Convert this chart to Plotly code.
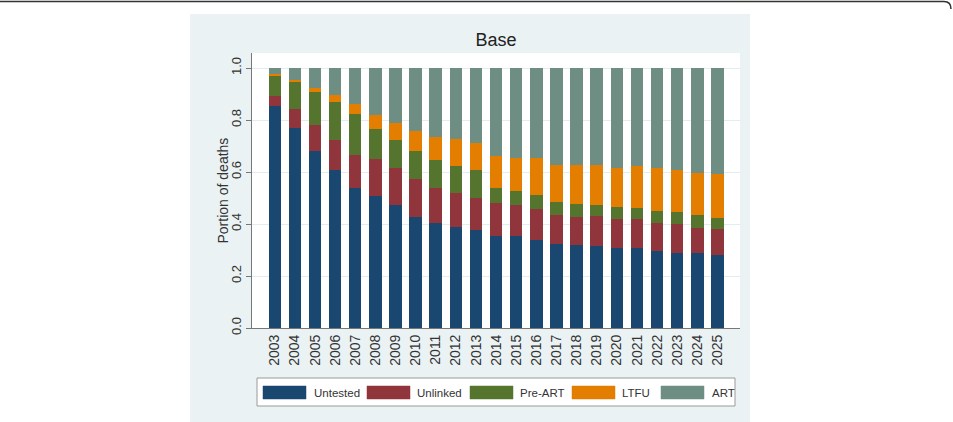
import plotly.graph_objects as go

years = ["2003", "2004", "2005", "2006", "2007", "2008", "2009", "2010", "2011", "2012",
         "2013", "2014", "2015", "2016", "2017", "2018", "2019", "2020", "2021", "2022",
         "2023", "2024", "2025"]

untested = [0.854, 0.769, 0.682, 0.608, 0.537, 0.508, 0.473, 0.428, 0.403, 0.390, 0.377, 0.354,
            0.354, 0.338, 0.322, 0.319, 0.315, 0.309, 0.309, 0.297, 0.287, 0.288, 0.281]
unlinked = [0.040, 0.072, 0.099, 0.115, 0.128, 0.141, 0.143, 0.144, 0.137, 0.131, 0.124, 0.126,
            0.119, 0.119, 0.113, 0.109, 0.115, 0.110, 0.110, 0.108, 0.113, 0.098, 0.099]
pre_art = [0.077, 0.104, 0.128, 0.147, 0.158, 0.115, 0.107, 0.109, 0.106, 0.104, 0.106, 0.058,
           0.054, 0.054, 0.049, 0.049, 0.045, 0.047, 0.041, 0.045, 0.045, 0.047, 0.042]
ltfu = [0.005, 0.009, 0.015, 0.026, 0.037, 0.055, 0.067, 0.078, 0.087, 0.103, 0.103, 0.122,
        0.128, 0.141, 0.143, 0.150, 0.151, 0.150, 0.163, 0.164, 0.163, 0.164, 0.170]
art = [0.024, 0.046, 0.076, 0.104, 0.140, 0.181, 0.210, 0.241, 0.267, 0.273, 0.290, 0.340,
       0.345, 0.348, 0.373, 0.373, 0.374, 0.384, 0.377, 0.386, 0.392, 0.403, 0.408]

series_names = ["Untested", "Unlinked", "Pre-ART", "LTFU", "ART"]
series_values = [untested, unlinked, pre_art, ltfu, art]
series_colors = ["#1A476F", "#90353B", "#55752F", "#E37E00", "#6E8E84"]

FONT = "Liberation Sans, Arial, sans-serif"
W, H = 953, 422
PL, PR, PT, PB = 252, 740, 53, 328  # plot area in pixels


def px(x):
    return (x - PL) / (PR - PL)


def py(y):
    return (PB - y) / (PB - PT)


fig = go.Figure()
for name, vals, col in zip(series_names, series_values, series_colors):
    fig.add_trace(go.Bar(x=years, y=vals, name=name, marker=dict(color=col, line=dict(width=0)),
                         showlegend=False))

shapes = [
    # outer card top border
    dict(type="path", xref="paper", yref="paper",
         path=f"M {px(0)},{py(1.5)} L {px(944)},{py(1.5)} Q {px(951)},{py(1.5)} {px(951)},{py(9)}",
         line=dict(color="#333333", width=1.5)),
    # graph region
    dict(type="rect", xref="paper", yref="paper", x0=px(190), x1=px(750), y0=py(430), y1=py(14),
         fillcolor="#EAF2F3", line=dict(width=0), layer="below"),
    # plot region
    dict(type="rect", xref="paper", yref="paper", x0=0, x1=1, y0=0, y1=1,
         fillcolor="white", line=dict(width=0), layer="below"),
    # legend box
    dict(type="rect", xref="paper", yref="paper", x0=px(257), x1=px(735), y0=py(406), y1=py(378),
         fillcolor="white", line=dict(color="#9A9A9A", width=1)),
]

annotations = [
    dict(xref="paper", yref="paper", x=px(222), y=0.5, text="Portion of deaths", textangle=-90,
         showarrow=False, xanchor="center", yanchor="middle",
         font=dict(family=FONT, size=14, color="#333333")),
]
swatch_left = [263, 367, 470, 572, 661]
text_left = [312, 415, 518, 620, 710]
for name, col, sx, tx in zip(series_names, series_colors, swatch_left, text_left):
    shapes.append(dict(type="rect", xref="paper", yref="paper", x0=px(sx), x1=px(sx + 43),
                       y0=py(399), y1=py(386), fillcolor=col, line=dict(color=col, width=0.5)))
    annotations.append(dict(xref="paper", yref="paper", x=px(tx), y=py(392.5), text=name,
                            showarrow=False, xanchor="left", yanchor="middle",
                            font=dict(family=FONT, size=11.5, color="#333333")))

fig.update_layout(
    width=W, height=H,
    margin=dict(l=PL, r=W - PR, t=PT, b=H - PB, pad=0),
    paper_bgcolor="white", plot_bgcolor="white",
    barmode="stack", bargap=0.38,
    font=dict(family=FONT, color="#333333"),
    title=dict(text="Base", x=0.5, xref="paper", xanchor="center",
               y=1 - 40 / H, yanchor="middle", font=dict(family=FONT, size=18, color="#222222")),
    shapes=shapes, annotations=annotations,
    xaxis=dict(type="category", range=[-1.13, 23.12], tickangle=-90, ticks="",
               showline=True, linecolor="#777777", linewidth=1, showgrid=False,
               tickfont=dict(family=FONT, size=14, color="#333333"), fixedrange=True),
    yaxis=dict(range=[0, 1.0577], tick0=0, dtick=0.2, tickformat=".1f", tickangle=-90,
               ticks="outside", ticklen=5, tickcolor="#777777",
               showline=True, linecolor="#777777", linewidth=1,
               showgrid=True, gridcolor="#E3ECEE", gridwidth=1, zeroline=False,
               tickfont=dict(family=FONT, size=13, color="#333333")),
)

fig.write_html("out.html")
